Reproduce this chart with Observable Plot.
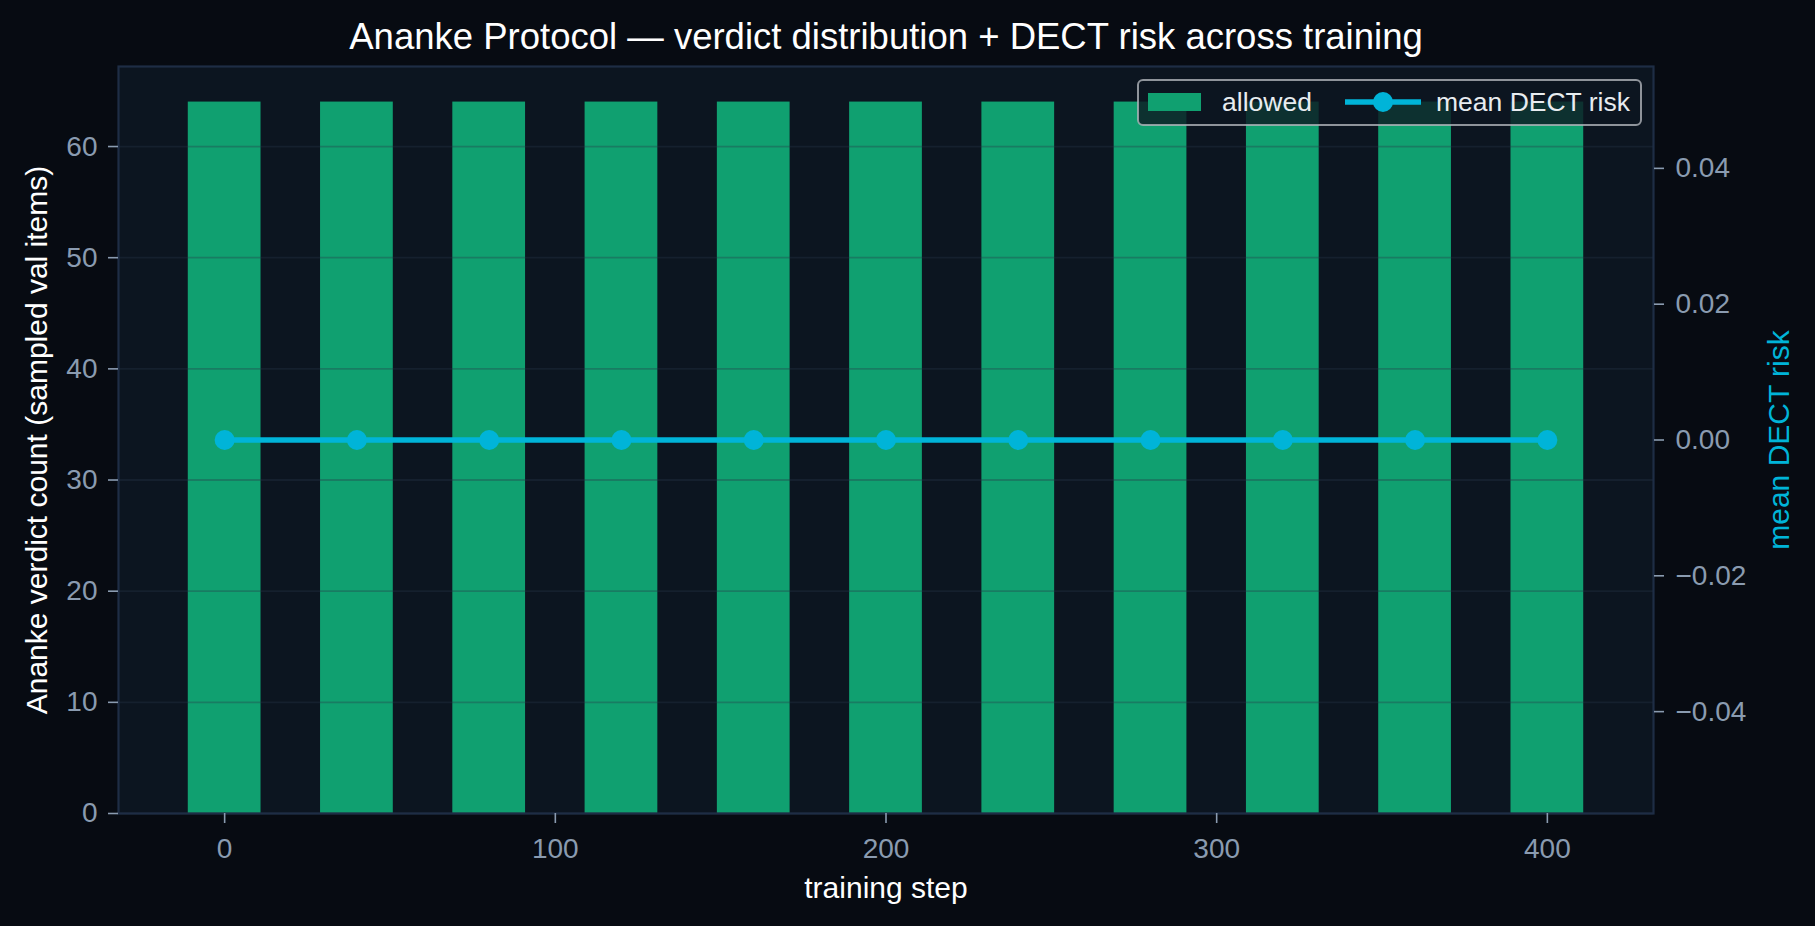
<!DOCTYPE html>
<html>
<head>
<meta charset="utf-8">
<script src="https://cdn.jsdelivr.net/npm/d3@7"></script>
<script src="https://cdn.jsdelivr.net/npm/@observablehq/plot@0.6"></script>
<style>
  html, body { margin: 0; padding: 0; background: #070b12; }
  #chart { width: 1815px; height: 926px; }
</style>
</head>
<body>
<div id="chart"></div>
<script>
// ---- data ----
const steps   = [0, 40, 80, 120, 160, 200, 240, 280, 320, 360, 400];
const allowed = [64, 64, 64, 64, 64, 64, 64, 64, 64, 64, 64];
const risk    = [0, 0, 0, 0, 0, 0, 0, 0, 0, 0, 0];
const countTicks = [0, 10, 20, 30, 40, 50, 60];
const riskTicks  = [-0.04, -0.02, 0, 0.02, 0.04];
const stepTicks  = [0, 100, 200, 300, 400];
const barWidth = 22;

const titleText = "Ananke Protocol — verdict distribution + DECT risk across training";
const xLabel = "training step";
const yLabel = "Ananke verdict count (sampled val items)";
const y2Label = "mean DECT risk";
const legendLabels = ["allowed", "mean DECT risk"];

// ---- styles ----
const FONT = "'Liberation Sans', Arial, sans-serif";
const BAR = "#10a070";
const LINE = "#00b4d8";
const TICK = "#8a9bb0";

const yMax = 67.2;
const rMin = -0.055, rMax = 0.055;
const toY = r => (r - rMin) / (rMax - rMin) * yMax;
const fromY = y => y / yMax * (rMax - rMin) + rMin;

const rows = steps.map((s, i) => ({step: s, allowed: allowed[i], risk: risk[i]}));
const fmtRisk = d => {
  const v = Math.round(fromY(d) * 100) / 100;
  const s = Math.abs(v).toFixed(2);
  return v < 0 ? "\u2212" + s : s;
};

const chart = Plot.plot({
  width: 1815,
  height: 926,
  marginLeft: 118,
  marginRight: 162,
  marginTop: 66,
  marginBottom: 113,
  style: {background: "#070b12", color: TICK, fontFamily: FONT, fontSize: "28px"},
  x: {domain: [-32.1, 432.1]},
  y: {domain: [0, yMax]},
  marks: [
    Plot.frame({fill: "#0c1520", stroke: null}),
    Plot.rectY(rows, {x1: d => d.step - barWidth / 2, x2: d => d.step + barWidth / 2, y: "allowed", fill: BAR}),
    Plot.gridY(countTicks, {stroke: "#283748", strokeOpacity: 0.34, strokeWidth: 1.8}),
    Plot.line(rows, {x: "step", y: d => toY(d.risk), stroke: LINE, strokeWidth: 5.5}),
    Plot.dot(rows, {x: "step", y: d => toY(d.risk), r: 10, fill: LINE, stroke: null}),
    Plot.frame({stroke: "#1e2d45", strokeWidth: 2.2}),
    Plot.axisX(stepTicks, {tickSize: 10, tickPadding: 15, label: null, fontSize: 28, stroke: TICK, strokeWidth: 1.6}),
    Plot.axisY(countTicks, {anchor: "left", tickSize: 10, tickPadding: 11, label: null, fontSize: 28, stroke: TICK, strokeWidth: 1.6}),
    Plot.axisY(riskTicks.map(toY), {anchor: "right", tickSize: 10, tickPadding: 12, label: null, fontSize: 28, tickFormat: fmtRisk, stroke: TICK, strokeWidth: 1.6}),
    Plot.text([titleText], {frameAnchor: "top", lineAnchor: "middle", dy: -29, fill: "#ffffff", fontSize: 36.5, fontFamily: FONT}),
    Plot.text([xLabel], {frameAnchor: "bottom", lineAnchor: "middle", dy: 75, fill: "#ffffff", fontSize: 30, fontFamily: FONT}),
    Plot.text([yLabel], {frameAnchor: "left", lineAnchor: "middle", textAnchor: "middle", dx: -81, rotate: -90, fill: "#ffffff", fontSize: 30, fontFamily: FONT}),
    Plot.text([y2Label], {frameAnchor: "right", lineAnchor: "middle", textAnchor: "middle", dx: 126, rotate: -90, fill: LINE, fontSize: 30, fontFamily: FONT})
  ]
});

// legend
const svg = d3.select(chart);
const lg = svg.append("g").attr("font-family", FONT).attr("font-size", 26.5).attr("text-anchor", "start");
lg.append("rect").attr("x", 1138).attr("y", 80).attr("width", 503).attr("height", 45).attr("rx", 5)
  .attr("fill", "#0c1520").attr("fill-opacity", 0.8).attr("stroke", "#b0b4ba").attr("stroke-opacity", 0.8).attr("stroke-width", 2);
lg.append("rect").attr("x", 1148).attr("y", 93).attr("width", 53).attr("height", 18).attr("fill", BAR);
lg.append("text").attr("x", 1222).attr("y", 111).attr("fill", "#e8ecf0").text(legendLabels[0]);
lg.append("line").attr("x1", 1345).attr("x2", 1421).attr("y1", 102).attr("y2", 102).attr("stroke", LINE).attr("stroke-width", 5.5);
lg.append("circle").attr("cx", 1383).attr("cy", 102).attr("r", 10).attr("fill", LINE);
lg.append("text").attr("x", 1436).attr("y", 111).attr("fill", "#e8ecf0").text(legendLabels[1]);

document.getElementById("chart").appendChild(chart);
</script>
</body>
</html>
